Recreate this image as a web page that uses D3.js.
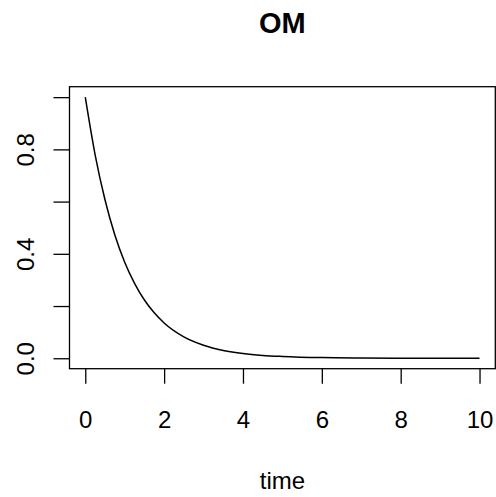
<!DOCTYPE html>
<html><head><meta charset="utf-8">
<script src="https://cdn.jsdelivr.net/npm/d3@7"></script>
<style>body{margin:0;background:#fff}svg{display:block}text{font-family:"Liberation Sans",Arial,sans-serif;fill:#000}</style>
</head><body><svg id="c" width="496" height="497"></svg>
<script>
const title = "OM";
const xLabel = "time";
const timeVals = [0,0.25,0.5,0.75,1,1.25,1.5,1.75,2,2.5,3,3.5,4,4.5,5,6,7,8,9,10];
const omVals   = [1.0,0.779,0.607,0.472,0.368,0.287,0.223,0.174,0.135,0.082,0.050,0.030,0.018,0.011,0.007,0.0025,0.0009,0.0003,0.0001,0.00005];
const xTicks = [0,2,4,6,8,10];
const yTicks = [0,0.2,0.4,0.6,0.8,1.0];
const yTickLabels = ["0.0","","0.4","","0.8",""];

const svg = d3.select("#c");
const L = 69.5, R = 495.3, T = 86.7, B = 368.7;
const x = d3.scaleLinear().domain([-0.4,10.4]).range([L,R]);
const y = d3.scaleLinear().domain([-0.04,1.04]).range([B,T]);

svg.append("rect").attr("x",L).attr("y",T).attr("width",R-L).attr("height",B-T)
  .attr("fill","none").attr("stroke","#000").attr("stroke-width",1.3);

const xa = svg.append("g").attr("transform",`translate(0,${B})`)
  .call(d3.axisBottom(x).tickValues(xTicks).tickSize(15).tickPadding(27).tickFormat(d3.format("d")));
xa.select(".domain").remove();
xa.selectAll("line").attr("stroke","#000").attr("stroke-width",1.3);
xa.selectAll("text").attr("font-size",24).attr("font-family","Liberation Sans, Arial, sans-serif").attr("fill","#000");

const ya = svg.append("g").attr("transform",`translate(${L},0)`)
  .call(d3.axisLeft(y).tickValues(yTicks).tickSize(16).tickFormat((d,i)=>yTickLabels[i]));
ya.select(".domain").remove();
ya.selectAll("line").attr("stroke","#000").attr("stroke-width",1.3);
ya.selectAll("text").attr("font-size",24).attr("font-family","Liberation Sans, Arial, sans-serif").attr("fill","#000")
  .attr("text-anchor","middle").attr("dy",0).attr("x",0).attr("y",0)
  .attr("transform",`translate(${33.5-L},0) rotate(-90)`);

const line = d3.line().x((d,i)=>x(timeVals[i])).y(d=>y(d)).curve(d3.curveMonotoneX);
svg.append("path").datum(omVals).attr("d",line).attr("fill","none").attr("stroke","#000").attr("stroke-width",1.5);

svg.append("text").attr("x",(L+R)/2).attr("y",33).attr("text-anchor","middle")
  .attr("font-size",29).attr("font-weight","bold").text(title);
svg.append("text").attr("x",(L+R)/2).attr("y",489).attr("text-anchor","middle")
  .attr("font-size",24).text(xLabel);
</script></body></html>
